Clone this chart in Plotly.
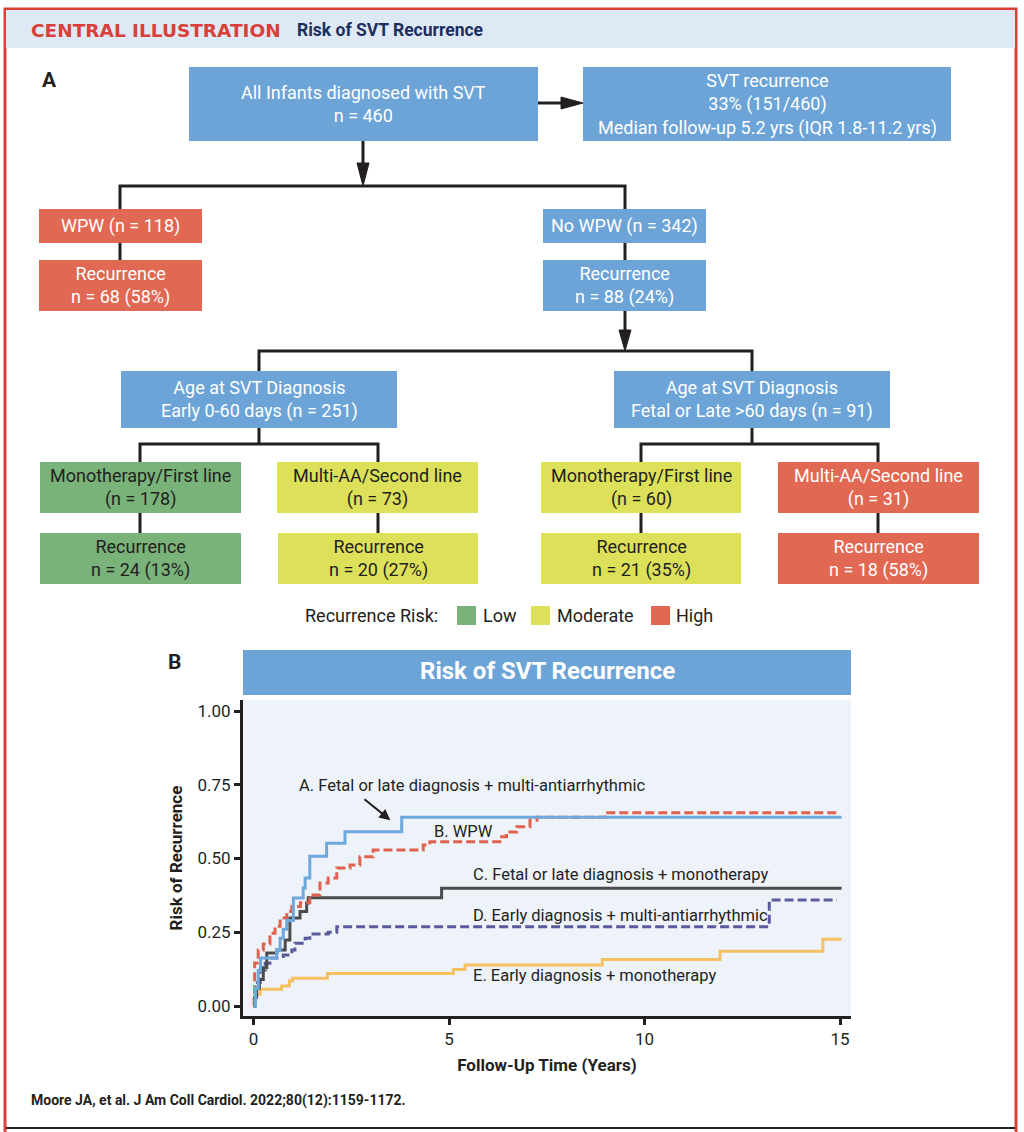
import plotly.graph_objects as go

# ---------------- Panel B data ----------------
a_time = [0, 0.05, 0.12, 0.18, 0.59, 0.68, 0.76, 0.85, 1.02, 1.27, 1.32, 1.44, 1.87, 2.34, 3.79, 15.04]
a_risk = [0.0, 0.06, 0.12, 0.163, 0.19, 0.23, 0.26, 0.29, 0.366, 0.40, 0.434, 0.508, 0.552, 0.591, 0.64, 0.64]

b_time = [0, 0.03, 0.12, 0.25, 0.42, 0.55, 0.68, 0.85, 0.98, 1.2, 1.44, 1.70, 1.91, 2.13, 2.47, 2.72,
          3.06, 4.34, 4.51, 6.30, 6.47, 6.73, 7.07, 7.25, 8.99, 14.92]
b_risk = [0.0, 0.146, 0.19, 0.21, 0.247, 0.27, 0.298, 0.32, 0.337, 0.35, 0.376, 0.417, 0.434, 0.468,
          0.478, 0.506, 0.529, 0.546, 0.557, 0.574, 0.59, 0.608, 0.63, 0.64, 0.655, 0.655]

c_time = [0, 0.03, 0.08, 0.15, 0.25, 0.34, 0.6, 0.81, 0.93, 1.19, 1.36, 1.40, 4.81, 15.04]
c_risk = [0.0, 0.03, 0.06, 0.09, 0.13, 0.18, 0.19, 0.224, 0.298, 0.32, 0.349, 0.367, 0.399, 0.399]

d_time = [0, 0.02, 0.06, 0.17, 0.30, 0.42, 0.6, 0.76, 0.98, 1.06, 1.32, 1.44, 1.91, 2.13, 13.19, 14.92]
d_risk = [0.0, 0.04, 0.08, 0.122, 0.145, 0.163, 0.168, 0.173, 0.19, 0.213, 0.23, 0.244, 0.25, 0.269, 0.359, 0.359]

e_time = [0, 0.02, 0.05, 0.17, 0.72, 0.92, 1.0, 1.89, 5.11, 5.41, 8.92, 11.93, 14.56, 15.04]
e_risk = [0.0, 0.02, 0.04, 0.057, 0.068, 0.086, 0.094, 0.11, 0.124, 0.139, 0.158, 0.186, 0.226, 0.226]

curve_labels = ["A. Fetal or late diagnosis + multi-antiarrhythmic", "B. WPW",
                "C. Fetal or late diagnosis + monotherapy", "D. Early diagnosis + multi-antiarrhythmic",
                "E. Early diagnosis + monotherapy"]
x_tick_vals = [0, 5, 10, 15]
y_tick_vals = [0, 0.25, 0.5, 0.75, 1.0]
y_tick_text = ["0.00", "0.25", "0.50", "0.75", "1.00"]

# ---------------- Panel A data ----------------
flow_text = [
    "All Infants diagnosed with SVT<br>n = 460",
    "SVT recurrence<br>33% (151/460)<br>Median follow-up 5.2 yrs (IQR 1.8-11.2 yrs)",
    "WPW (n = 118)", "Recurrence<br>n = 68 (58%)",
    "No WPW (n = 342)", "Recurrence<br>n = 88 (24%)",
    "Age at SVT Diagnosis<br>Early 0-60 days (n = 251)",
    "Age at SVT Diagnosis<br>Fetal or Late >60 days (n = 91)",
    "Monotherapy/First line<br>(n = 178)", "Multi-AA/Second line<br>(n = 73)",
    "Recurrence<br>n = 24 (13%)", "Recurrence<br>n = 20 (27%)",
    "Monotherapy/First line<br>(n = 60)", "Multi-AA/Second line<br>(n = 31)",
    "Recurrence<br>n = 21 (35%)", "Recurrence<br>n = 18 (58%)",
]
flow_kind = ["node", "node", "High", "High", "node", "node", "node", "node",
             "Low", "Moderate", "Low", "Moderate", "Moderate", "High", "Moderate", "High"]
risk_levels = ["Low", "Moderate", "High"]

# ---------------- styling / layout ----------------
W, H = 1024, 1132
FONT = "Roboto"
DARK = "#231f20"
BLUE = "#6ca4d7"
fill_of = {"node": BLUE, "Low": "#79b37a", "Moderate": "#dde15a", "High": "#e16852"}
txt_of = {"node": "white", "Low": DARK, "Moderate": DARK, "High": "white"}

box_pos = [
    (189, 67, 538, 141), (583, 67, 951, 141),
    (39, 209, 202, 243), (39, 260, 202, 311),
    (543, 209, 706, 243), (543, 260, 706, 311),
    (121, 371, 397, 428), (614, 371, 890, 428),
    (40, 462, 241, 513), (277, 462, 478, 513),
    (40, 533, 241, 584), (278, 533, 478, 584),
    (541, 462, 741, 513), (778, 462, 979, 513),
    (541, 533, 741, 584), (778, 533, 979, 584),
]

connectors = [
    [(363, 141), (363, 170)],
    [(538, 103), (565, 103)],
    [(120, 209), (120, 186), (625, 186), (625, 209)],
    [(120, 243), (120, 260)], [(625, 243), (625, 260)],
    [(625, 311), (625, 334)],
    [(259, 371), (259, 351), (752, 351), (752, 371)],
    [(259, 428), (259, 444)], [(140, 462), (140, 444), (378, 444), (378, 462)],
    [(140, 513), (140, 533)], [(378, 513), (378, 533)],
    [(752, 428), (752, 444)], [(641, 462), (641, 444), (878, 444), (878, 462)],
    [(641, 513), (641, 533)], [(878, 513), (878, 533)],
]
arrowheads = [
    [(357, 163), (369, 163), (363, 186)],
    [(561, 97), (561, 109), (583, 103)],
    [(619, 330), (631, 330), (625, 351)],
]

fig = go.Figure()

# survival curves (drawn bottom to top)
series = [
    (e_time, e_risk, "#f5c162", "solid", curve_labels[4]),
    (d_time, d_risk, "#5b5a9d", "9px,4px", curve_labels[3]),
    (c_time, c_risk, "#4b4b4d", "solid", curve_labels[2]),
    (b_time, b_risk, "#e0624e", "9px,4px", curve_labels[1]),
    (a_time, a_risk, "#6fa8dc", "solid", curve_labels[0]),
]
for t, r, col, dash, name in series:
    fig.add_trace(go.Scatter(x=t, y=r, mode="lines", name=name, showlegend=False,
                             line=dict(color=col, width=3, shape="hv", dash=dash),
                             xaxis="x", yaxis="y"))

# invisible pixel-space axes for the flowchart
fig.add_trace(go.Scatter(x=[0], y=[0], mode="markers", marker=dict(opacity=0),
                         showlegend=False, hoverinfo="skip", xaxis="x2", yaxis="y2"))

shapes = []
annotations = []

def px_rect(x0, y0, x1, y1, fill, line=None, lw=0):
    shapes.append(dict(type="rect", xref="x2", yref="y2", x0=x0, y0=y0, x1=x1, y1=y1,
                       fillcolor=fill, line=dict(color=line or fill, width=lw), layer="above"))

def px_text(x, y, text, size, color=DARK, bold=False, xanchor="center", family=FONT):
    annotations.append(dict(xref="x2", yref="y2", x=x, y=y, text=text, showarrow=False,
                            xanchor=xanchor, yanchor="middle", align="center",
                            font=dict(family=family, size=size, color=color,
                                      weight="bold" if bold else "normal")))

# frame and header
shapes.append(dict(type="rect", xref="x2", yref="y2", x0=5, y0=9, x1=1016, y1=1145,
                   fillcolor="rgba(0,0,0,0)", line=dict(color="#d9403a", width=3), layer="below"))
px_rect(6, 10, 1015, 48, "#dfe9f5")
shapes.append(dict(type="line", xref="x2", yref="y2", x0=6, y0=1128, x1=1015, y1=1128,
                   line=dict(color=DARK, width=2), layer="above"))
px_text(29, 30, "CENTRAL ILLUSTRATION", 18.5, color="#d9403a", bold=True, xanchor="left",
        family="DejaVu Sans")
px_text(295, 30, "Risk of SVT Recurrence", 17.5, color="#1b2f5e", bold=True, xanchor="left")
px_text(40, 80, "A", 21, bold=True, xanchor="left")
px_text(166, 662, "B", 21, bold=True, xanchor="left")

# connectors
for pts in connectors:
    path = "M " + " L ".join(f"{x},{y}" for x, y in pts)
    shapes.append(dict(type="path", xref="x2", yref="y2", path=path,
                       line=dict(color=DARK, width=3), layer="above"))
for pts in arrowheads:
    path = "M " + " L ".join(f"{x},{y}" for x, y in pts) + " Z"
    shapes.append(dict(type="path", xref="x2", yref="y2", path=path, fillcolor=DARK,
                       line=dict(color=DARK, width=1), layer="above"))

# boxes
for txt, kind, (x0, y0, x1, y1) in zip(flow_text, flow_kind, box_pos):
    px_rect(x0, y0, x1, y1, fill_of[kind])
    px_text((x0 + x1) / 2, (y0 + y1) / 2, txt, 18, color=txt_of[kind])

# risk legend
px_text(440, 615, "Recurrence Risk:", 18, xanchor="right")
legend_pos = [(457, 481), (531, 555), (651, 674)]
for lvl, (sx, tx) in zip(risk_levels, legend_pos):
    px_rect(sx, 606, sx + 19, 625, fill_of[lvl])
    px_text(tx, 615, lvl, 18, xanchor="left")

# panel B banner
px_rect(243, 650, 851, 695, BLUE)
px_text(547, 671, "Risk of SVT Recurrence", 24, color="white", bold=True)

# citation
px_text(29, 1100, "Moore JA, et al. J Am Coll Cardiol. 2022;80(12):1159-1172.", 14,
        bold=True, xanchor="left")

# plot background
shapes.append(dict(type="rect", xref="x domain", yref="y domain", x0=0, y0=0, x1=1, y1=1,
                   fillcolor="#eef3fa", line=dict(width=0), layer="below"))

# curve labels
label_pos = [(1.11, 0.746), (4.57, 0.593), (5.56, 0.447), (5.56, 0.308), (5.56, 0.102)]
for lab, (lx, ly) in zip(curve_labels, label_pos):
    annotations.append(dict(xref="x", yref="y", x=lx, y=ly, text=lab, showarrow=False,
                            xanchor="left", yanchor="middle",
                            font=dict(family=FONT, size=16.5, color=DARK)))
annotations.append(dict(xref="x", yref="y", x=3.5, y=0.63, ax=2.8, ay=0.705,
                        axref="x", ayref="y", text="", showarrow=True, arrowhead=2,
                        arrowsize=1.1, arrowwidth=2, arrowcolor=DARK))

x0p, x1p, y0p, y1p = 243, 851, 700, 1016
fig.update_layout(
    width=W, height=H, margin=dict(l=0, r=0, t=0, b=0), autosize=False,
    paper_bgcolor="white", plot_bgcolor="rgba(0,0,0,0)",
    font=dict(family=FONT, color=DARK),
    shapes=shapes, annotations=annotations,
    xaxis=dict(domain=[x0p / W, x1p / W], range=[-0.2685, 15.28], showgrid=False, zeroline=False,
               showline=True, linecolor=DARK, linewidth=3, ticks="outside", ticklen=6,
               tickwidth=2.5, tickcolor=DARK, tickvals=x_tick_vals,
               tickfont=dict(size=17, color=DARK, family=FONT),
               title=dict(text="<b>Follow-Up Time (Years)</b>", standoff=11,
                          font=dict(size=17, color=DARK, family=FONT))),
    yaxis=dict(domain=[1 - y1p / H, 1 - y0p / H], range=[-0.0339, 1.0373], showgrid=False,
               zeroline=False, showline=True, linecolor=DARK, linewidth=3, ticks="outside",
               ticklen=6, tickwidth=2.5, tickcolor=DARK, tickvals=y_tick_vals,
               ticktext=y_tick_text, tickfont=dict(size=17, color=DARK, family=FONT),
               title=dict(text="<b>Risk of Recurrence</b>", standoff=11,
                          font=dict(size=17, color=DARK, family=FONT))),
    xaxis2=dict(domain=[0, 1], range=[0, W], visible=False, fixedrange=True),
    yaxis2=dict(domain=[0, 1], range=[H, 0], visible=False, fixedrange=True),
)

fig.write_html("out.html", config={"displayModeBar": False},
               post_script="document.body.style.margin='0';")
